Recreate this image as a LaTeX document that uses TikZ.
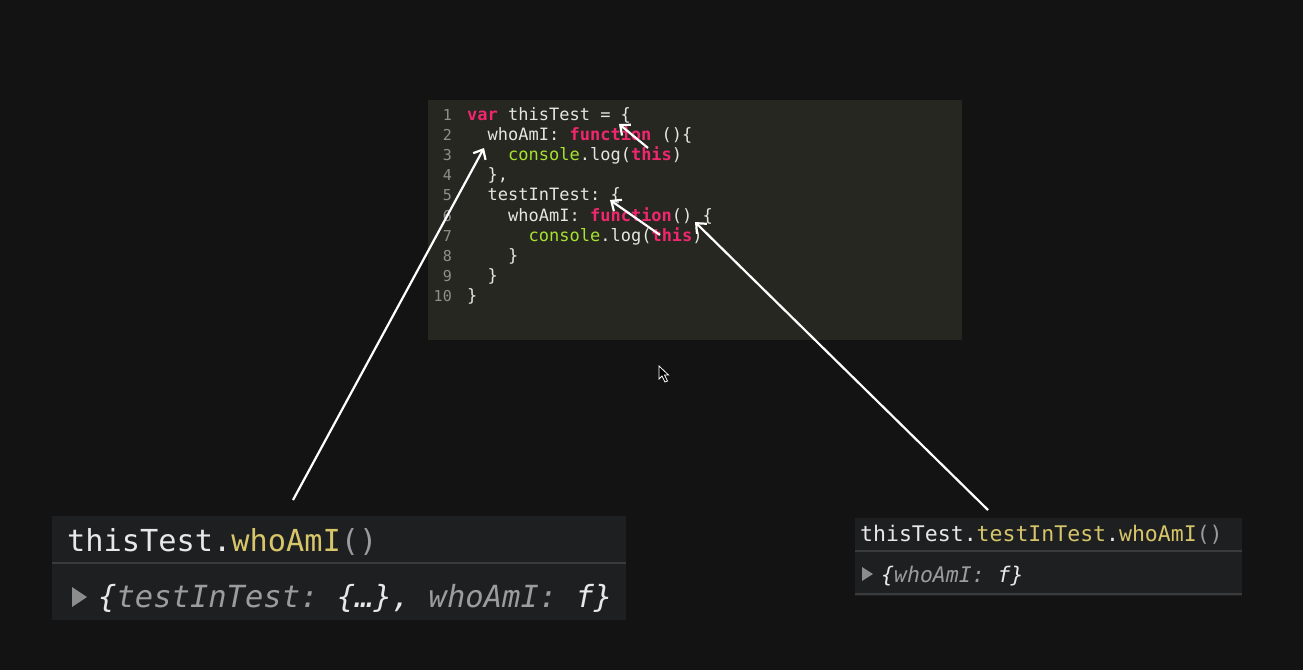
\documentclass[tikz,border=0pt]{standalone}
\usepackage{fontspec}
\setmonofont{DejaVu Sans Mono}[WordSpace={1,0,0}]
\usetikzlibrary{arrows.meta}
\definecolor{bgcol}{HTML}{131313}
\definecolor{codebg}{HTML}{272722}
\definecolor{conbg}{HTML}{1E1F21}
\definecolor{conline}{HTML}{3A3B3D}
\definecolor{kwpink}{HTML}{F0266E}
\definecolor{fngreen}{HTML}{A6E22E}
\definecolor{codetxt}{HTML}{E6E6E0}
\definecolor{lnum}{HTML}{8F908A}
\definecolor{calltxt}{HTML}{E8E8E8}
\definecolor{callyel}{HTML}{D7C56A}
\definecolor{keygrey}{HTML}{9C9C9C}
\definecolor{trigrey}{HTML}{8C8C8C}
\newcommand{\kw}[1]{\textcolor{kwpink}{\bfseries #1}}
\newcommand{\fn}[1]{\textcolor{fngreen}{#1}}
\newcommand{\yel}[1]{\textcolor{callyel}{#1}}
\newcommand{\gry}[1]{\textcolor{keygrey}{#1}}
\tikzstyle{codeline} = [anchor=base west, inner sep=0, text=codetxt,
    font=\ttfamily\fontsize{17}{20}\selectfont]
\tikzstyle{linenum} = [anchor=base east, inner sep=0, text=lnum,
    font=\ttfamily\fontsize{15}{18}\selectfont]
\tikzstyle{callbig} = [anchor=base west, inner sep=0, text=calltxt,
    font=\ttfamily\fontsize{30.3}{36}\selectfont]
\tikzstyle{callsmall} = [anchor=base west, inner sep=0, text=calltxt,
    font=\ttfamily\fontsize{21.5}{26}\selectfont]
\tikzstyle{pointer} = [-{Straight Barb[length=8pt,width=14pt]}, white, line width=2.2pt]
\begin{document}
\begin{tikzpicture}[x=1pt,y=-1pt]
    \fill[bgcol] (0,0) rectangle (1303,670);
    \useasboundingbox (0,0) rectangle (1303,670);
    % code panel
    \fill[codebg] (428,100) rectangle (962,340);
    \foreach \n in {1,...,10}
        \node [linenum] (num\n) at (452,{120+20.2*(\n-1)}) {\n};
    \node [codeline] (l1) at (467,120.0) {\kw{var} thisTest = \{};
    \node [codeline] (l2) at (487.5,140.2) {whoAmI: \kw{function} ()\{};
    \node [codeline] (l3) at (508,160.4) {\fn{console}.log(\kw{this})};
    \node [codeline] (l4) at (487.5,180.6) {\},};
    \node [codeline] (l5) at (487.5,200.8) {testInTest: \{};
    \node [codeline] (l6) at (508,221.0) {whoAmI: \kw{function}() \{};
    \node [codeline] (l7) at (528.5,241.2) {\fn{console}.log(\kw{this})};
    \node [codeline] (l8) at (508,261.4) {\}};
    \node [codeline] (l9) at (487.5,281.6) {\}};
    \node [codeline] (l10) at (467,301.8) {\}};
    % mouse cursor
    \filldraw[fill=black, draw=white, line width=0.8pt] (659,366) -- (659,379) -- (662,376)
        -- (665,382) -- (667.5,381) -- (664.5,375) -- (668.5,375) -- cycle;
    % left console
    \fill[conbg] (52,516) rectangle (626,620);
    \fill[conline] (52,562) rectangle (626,564);
    \node [callbig] (call1) at (67,551) {thisTest.\yel{whoAmI}\gry{()}};
    \fill[trigrey] (72,587) -- (87,597) -- (72,607) -- cycle;
    \node [callbig, font=\ttfamily\itshape\fontsize{30.5}{36}\selectfont] (res1) at (98,607)
        {\{\gry{testInTest:} \{…\}, \gry{whoAmI:} f\}};
    % right console
    \fill[conbg] (855,518) rectangle (1242,596);
    \fill[conline] (855,550) rectangle (1242,552);
    \fill[conline] (855,593) rectangle (1242,595);
    \node [callsmall] (call2) at (860,541) {thisTest.\yel{testInTest}.\yel{whoAmI}\gry{()}};
    \fill[trigrey] (862,567) -- (873,574) -- (862,581) -- cycle;
    \node [callsmall, font=\ttfamily\itshape\fontsize{21.5}{26}\selectfont] (res2) at (881,582)
        {\{\gry{whoAmI:} f\}};
    % pointers
    \coordinate (tail1) at (293,500);
    \coordinate (head1) at (484,148);
    \coordinate (tail2) at (648,148);
    \coordinate (head2) at (619,124);
    \coordinate (tail3) at (660,235);
    \coordinate (head3) at (610,200);
    \coordinate (tail4) at (988,510);
    \coordinate (head4) at (695,222);
    \draw [pointer] (tail1) -- (head1);
    \draw [pointer] (tail2) -- (head2);
    \draw [pointer] (tail3) -- (head3);
    \draw [pointer] (tail4) -- (head4);
\end{tikzpicture}
\end{document}
